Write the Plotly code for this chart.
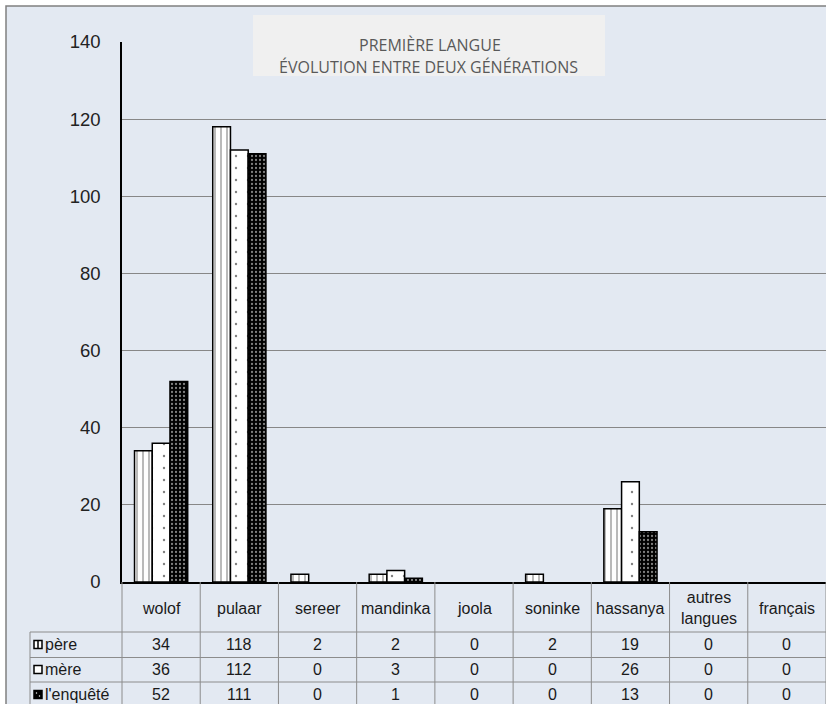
import plotly.graph_objects as go

# Data: first language, across two generations
categories = ["wolof", "pulaar", "sereer", "mandinka", "joola",
              "soninke", "hassanya", "autres langues", "français"]
header_labels = ["wolof", "pulaar", "sereer", "mandinka", "joola",
                 "soninke", "hassanya", "autres<br>langues", "français"]
series_names = ["père", "mère", "l'enquêté"]
pere = [34, 118, 2, 2, 0, 2, 19, 0, 0]
mere = [36, 112, 0, 3, 0, 0, 26, 0, 0]
enquete = [52, 111, 0, 1, 0, 0, 13, 0, 0]
y_ticks = [0, 20, 40, 60, 80, 100, 120, 140]

W, H = 826, 704
L, R, T, B = 122, 0, 42, 122
PW, PH = W - L - R, H - T - B


def px(xp):
    return (xp - L) / PW


def py(yp):
    return (H - B - yp) / PH


def outline(vals):
    # no outline on empty bars, so a zero does not leave a stroke on the axis
    return [1.5 if v else 0 for v in vals]


TXT = "#1a1a1a"
GRID = "#878787"
TAB = "#8c8c8c"
BG = "#e3e9f2"
FONT = "Liberation Sans, Arial, sans-serif"

fig = go.Figure()

fig.add_bar(
    x=categories, y=pere, name=series_names[0],
    marker=dict(color="white", line=dict(color="black", width=outline(pere)),
                pattern=dict(shape="|", size=6, solidity=0.18,
                             fgcolor="black", bgcolor="white")),
)
fig.add_bar(
    x=categories, y=mere, name=series_names[1],
    marker=dict(color="white", line=dict(color="black", width=outline(mere)),
                pattern=dict(shape=".", size=12, solidity=0.03,
                             fgcolor="black", bgcolor="white")),
)
fig.add_bar(
    x=categories, y=enquete, name=series_names[2],
    marker=dict(color="black", line=dict(color="black", width=outline(enquete)),
                pattern=dict(shape=".", size=4, solidity=0.25,
                             fgcolor="white", bgcolor="black")),
)

shapes = []
# chart background with its frame; white margin above and to the left
shapes.append(dict(type="rect", xref="paper", yref="paper", layer="below",
                   x0=px(6), x1=px(840), y0=py(712), y1=py(6),
                   fillcolor=BG, line=dict(color="#808080", width=1.5)))
# title box
shapes.append(dict(type="rect", xref="paper", yref="paper", layer="below",
                   x0=px(253), x1=px(605), y0=py(76), y1=py(15),
                   fillcolor="#f0f0f0", line=dict(width=0)))

# data table grid
n = len(categories)
for k in range(n + 1):
    shapes.append(dict(type="line", xref="paper", yref="paper",
                       x0=k / n, x1=k / n, y0=py(582), y1=py(710),
                       line=dict(color=TAB, width=1)))
shapes.append(dict(type="line", xref="paper", yref="paper",
                   x0=px(30), x1=px(30), y0=py(632), y1=py(710),
                   line=dict(color=TAB, width=1)))
for yy in [632, 657.5, 682, 707]:
    shapes.append(dict(type="line", xref="paper", yref="paper",
                       x0=px(30), x1=1.01, y0=py(yy), y1=py(yy),
                       line=dict(color=TAB, width=1)))

row_centers = [644.5, 669.5, 694.5]

# legend keys in the table
k0, k1 = 34, 42
for i, yc in enumerate(row_centers):
    y0, y1 = py(yc + 4), py(yc - 4)
    fill = "black" if i == 2 else "white"
    shapes.append(dict(type="rect", xref="paper", yref="paper",
                       x0=px(k0), x1=px(k1), y0=y0, y1=y1,
                       fillcolor=fill, line=dict(color="black", width=1.5)))
    if i == 0:
        shapes.append(dict(type="line", xref="paper", yref="paper",
                           x0=px(38), x1=px(38), y0=y0, y1=y1,
                           line=dict(color="black", width=1.5)))
    if i == 2:
        for dx, dy in [(-1.5, -1.5), (1.5, 1.5)]:
            shapes.append(dict(type="rect", xref="paper", yref="paper",
                               x0=px(38 + dx - 0.6), x1=px(38 + dx + 0.6),
                               y0=py(yc + dy + 0.6), y1=py(yc + dy - 0.6),
                               fillcolor="white", line=dict(width=0)))

annotations = []
# title, two lines
title_font = dict(family="Open Sans", size=16, color="#595959")
annotations.append(dict(text="PREMIÈRE LANGUE", xref="paper", yref="paper",
                        x=px(430), y=py(32), showarrow=False, font=title_font))
annotations.append(dict(text="ÉVOLUTION ENTRE DEUX GÉNÉRATIONS", xref="paper", yref="paper",
                        x=px(428), y=py(54), showarrow=False, font=title_font))

# table header
for cat, lab in zip(categories, header_labels):
    annotations.append(dict(text=lab, xref="x", yref="paper", x=cat, y=py(608),
                            showarrow=False, yanchor="middle",
                            font=dict(family=FONT, size=16, color=TXT)))

# table rows
for name, vals, yc in zip(series_names, [pere, mere, enquete], row_centers):
    annotations.append(dict(text=name, xref="paper", yref="paper", x=px(43), y=py(yc),
                            xanchor="left", yanchor="middle", showarrow=False,
                            font=dict(family=FONT, size=16, color=TXT)))
    for cat, v in zip(categories, vals):
        annotations.append(dict(text=str(v), xref="x", yref="paper", x=cat, y=py(yc),
                                showarrow=False, yanchor="middle",
                                font=dict(family=FONT, size=16, color=TXT)))

fig.update_layout(
    width=W, height=H,
    margin=dict(l=L, r=R, t=T, b=B, pad=0),
    paper_bgcolor="white",
    plot_bgcolor="rgba(0,0,0,0)",
    barmode="group", bargap=0.32, bargroupgap=0,
    showlegend=False,
    shapes=shapes,
    annotations=annotations,
    xaxis=dict(type="category", showticklabels=False, showgrid=False,
               showline=True, linecolor="black", linewidth=1.5,
               ticks="", range=[-0.5, n - 0.5], fixedrange=True),
    yaxis=dict(range=[0, 140], tickvals=y_ticks, showgrid=True,
               gridcolor=GRID, gridwidth=1, showline=True,
               linecolor="black", linewidth=1.5, ticks="",
               zeroline=False, ticklabelstandoff=16,
               tickfont=dict(family=FONT, size=18.5, color="#222222"),
               fixedrange=True),
)

fig.write_html("out.html")
